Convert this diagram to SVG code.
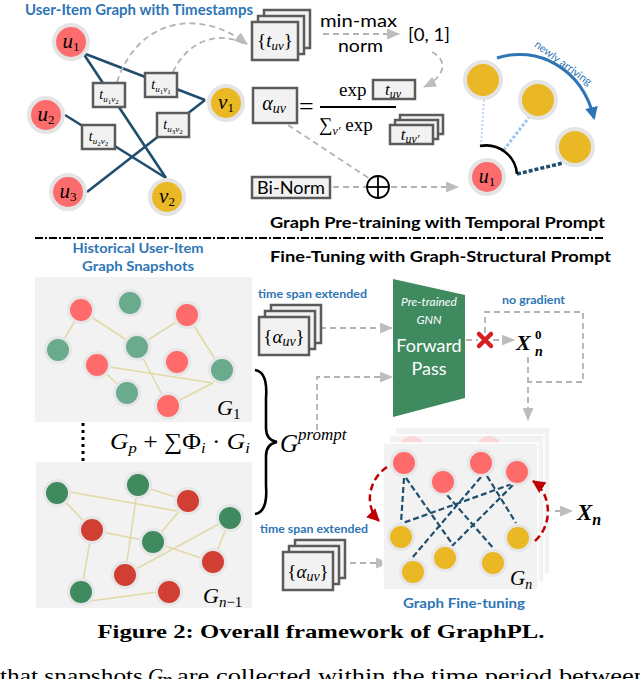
<svg xmlns="http://www.w3.org/2000/svg" width="640" height="679" viewBox="0 0 640 679">
<defs>
<marker id="ag" viewBox="0 0 12 10" refX="11" refY="5" markerWidth="13" markerHeight="11" markerUnits="userSpaceOnUse" orient="auto"><path d="M0,0 L12,5 L0,10 z" fill="#bdbdbd"/></marker>
<marker id="ar" viewBox="0 0 12 12" refX="11" refY="6" markerWidth="13" markerHeight="13" markerUnits="userSpaceOnUse" orient="auto"><path d="M0,0 L12,6 L0,12 z" fill="#c00000"/></marker>
<marker id="ab" viewBox="0 0 12 12" refX="10" refY="6" markerWidth="13" markerHeight="13" markerUnits="userSpaceOnUse" orient="auto"><path d="M0,0 L12,6 L0,12 z" fill="#2e75b6"/></marker>
<style>
.s{font-family:Lato,"Liberation Sans",sans-serif}
.b{font-weight:bold}
.blue{fill:#2e75b6}
.m{font-family:"Liberation Serif",serif;font-style:italic}
.n{font-style:normal}
.box{fill:#f2f2f2;stroke:#5b5b5b;stroke-width:2.5}
.dash{fill:none;stroke:#b3b3b3;stroke-width:1.8;stroke-dasharray:6 4}
.e{stroke:#1f4e6e;stroke-width:2.6;fill:none}
.de{stroke:#1f4e6e;stroke-width:2.2;fill:none;stroke-dasharray:6 3}
.ye{stroke:#e2d9a6;stroke-width:1.6;fill:none}
.ring{stroke:#e4e4e4;stroke-width:4}
.ring2{stroke:#e6e6e6;stroke-width:3}
.ur{fill:#fd6c6c}
.vy{fill:#e9b824}
.g1{fill:#6aab8e}
.r1{fill:#ff6b6b}
.g2{fill:#3f8a5e}
.r2{fill:#d13f33}
.panel{fill:#f2f2f2}
.body{font-family:"Liberation Serif",serif;font-size:21px}
</style>
</defs>
<rect width="640" height="679" fill="#ffffff"/>

<!-- Top title -->
<text x="25" y="15" class="s b blue" font-size="15" textLength="228" lengthAdjust="spacingAndGlyphs">User-Item Graph with Timestamps</text>

<!-- connectors -->
<g id="connectors">
  <line x1="83" y1="53" x2="205" y2="100" class="e"/>
  <line x1="83" y1="53" x2="166" y2="178" class="e"/>
  <line x1="65" y1="115" x2="166" y2="178" class="e"/>
  <line x1="87" y1="192" x2="205" y2="100" class="e"/>
  <path d="M117,82 C138,18 200,8 247,44" class="dash" marker-end="url(#ag)"/>
  <path d="M173,72 C186,44 215,28 247,45" class="dash"/>
  <line x1="323" y1="34" x2="399" y2="34" class="dash" marker-end="url(#ag)"/>
  <path d="M432,52 C448,60 446,76 424,87" class="dash" marker-end="url(#ag)"/>
  <line x1="288" y1="125" x2="370" y2="179" class="dash"/>
  <line x1="333" y1="187" x2="366" y2="187" class="dash"/>
  <line x1="391" y1="187" x2="458" y2="187" class="dash" marker-end="url(#ag)"/>
  <path d="M497,58 C537,45 582,68 594,118" fill="none" stroke="#2e75b6" stroke-width="3" marker-end="url(#ab)"/>
  <line x1="484" y1="100" x2="481" y2="145" stroke="#bdd7ee" stroke-width="2" stroke-dasharray="2 2"/>
  <line x1="530" y1="116" x2="503" y2="151" stroke="#9dc3e6" stroke-width="3" stroke-dasharray="3 2"/>
  <line x1="517" y1="174" x2="563" y2="163" stroke="#1f4e6e" stroke-width="3.5" stroke-dasharray="4 2"/>
  <path d="M480,146 A31,31 0 0 1 517,174" fill="none" stroke="#000" stroke-width="2.6"/>
  <!-- separator -->
  <line x1="35" y1="238" x2="605" y2="238" stroke="#000" stroke-width="2" stroke-dasharray="8 2 2 2"/>
  <!-- bottom connectors -->
  <line x1="320" y1="328" x2="392" y2="328" class="dash" marker-end="url(#ag)"/>
  <path d="M317,430 V377 H392" class="dash" marker-end="url(#ag)"/>
  <line x1="466" y1="340" x2="478" y2="340" class="dash"/>
  <line x1="493" y1="340" x2="514" y2="340" class="dash" marker-end="url(#ag)"/>
  <path d="M485,333 V312 H583 V382 H528" class="dash"/>
  <line x1="528" y1="357" x2="528" y2="420" class="dash" marker-end="url(#ag)"/>
  <line x1="340" y1="563" x2="388" y2="563" class="dash" marker-end="url(#ag)"/>
  <line x1="525" y1="511" x2="572" y2="511" class="dash" marker-end="url(#ag)"/>
  <line x1="83" y1="423" x2="83" y2="468" stroke="#000" stroke-width="3" stroke-dasharray="3 4"/>
</g>

<!-- label boxes on edges -->
<g id="t_u1v2"><rect x="93" y="83" width="32" height="24" class="box"/><text x="109" y="99" text-anchor="middle" class="m" font-size="14">t<tspan font-size="9" dy="3">u</tspan><tspan font-size="7" dy="2" class="n">1</tspan><tspan font-size="9" dy="-2">v</tspan><tspan font-size="7" dy="2" class="n">2</tspan></text></g>
<g id="t_u1v1"><rect x="145" y="73" width="32" height="24" class="box"/><text x="161" y="89" text-anchor="middle" class="m" font-size="14">t<tspan font-size="9" dy="3">u</tspan><tspan font-size="7" dy="2" class="n">1</tspan><tspan font-size="9" dy="-2">v</tspan><tspan font-size="7" dy="2" class="n">1</tspan></text></g>
<g id="t_u2v2"><rect x="82" y="125" width="33" height="24" class="box"/><text x="98.5" y="141" text-anchor="middle" class="m" font-size="14">t<tspan font-size="9" dy="3">u</tspan><tspan font-size="7" dy="2" class="n">2</tspan><tspan font-size="9" dy="-2">v</tspan><tspan font-size="7" dy="2" class="n">2</tspan></text></g>
<g id="t_u3v2"><rect x="157" y="113" width="32" height="24" class="box"/><text x="173" y="129" text-anchor="middle" class="m" font-size="14">t<tspan font-size="9" dy="3">u</tspan><tspan font-size="7" dy="2" class="n">3</tspan><tspan font-size="9" dy="-2">v</tspan><tspan font-size="7" dy="2" class="n">2</tspan></text></g>

<!-- top graph nodes -->
<g id="u1"><circle cx="71" cy="42" r="17" class="ur ring"/><text x="71" y="48" text-anchor="middle" class="m" font-size="21">u<tspan font-size="13" dy="3" class="n">1</tspan></text></g>
<g id="u2"><circle cx="46" cy="115" r="17" class="ur ring"/><text x="46" y="121" text-anchor="middle" class="m" font-size="21">u<tspan font-size="13" dy="3" class="n">2</tspan></text></g>
<g id="u3"><circle cx="68" cy="192" r="17" class="ur ring"/><text x="68" y="198" text-anchor="middle" class="m" font-size="21">u<tspan font-size="13" dy="3" class="n">3</tspan></text></g>
<g id="v1"><circle cx="226" cy="103" r="17" class="vy ring"/><text x="226" y="109" text-anchor="middle" class="m" font-size="21">v<tspan font-size="13" dy="3" class="n">1</tspan></text></g>
<g id="v2"><circle cx="167" cy="197" r="17" class="vy ring"/><text x="167" y="203" text-anchor="middle" class="m" font-size="21">v<tspan font-size="13" dy="3" class="n">2</tspan></text></g>

<!-- {t_uv} stack -->
<g id="tuv_stack">
  <rect x="264" y="10" width="46" height="38" class="box"/>
  <rect x="258" y="16" width="46" height="38" class="box"/>
  <rect x="252" y="22" width="46" height="38" class="box"/>
  <text x="275" y="47" text-anchor="middle" class="m" font-size="19"><tspan class="n">{</tspan>t<tspan font-size="13" dy="3">uv</tspan><tspan class="n" dy="-3">}</tspan></text>
</g>
<g id="minmax">
  <text x="358.5" y="27" text-anchor="middle" class="s" font-size="18" textLength="77" lengthAdjust="spacingAndGlyphs">min-max</text>
  <text x="360.5" y="52" text-anchor="middle" class="s" font-size="18" textLength="45" lengthAdjust="spacingAndGlyphs">norm</text>
</g>
<g id="range"><text x="408" y="41" class="s" font-size="18" textLength="42" lengthAdjust="spacingAndGlyphs">[0, 1]</text></g>

<!-- formula -->
<g id="alpha">
  <rect x="253" y="88" width="44" height="35" class="box"/>
  <text x="274" y="110" text-anchor="middle" class="m" font-size="20">α<tspan font-size="14" dy="3">uv</tspan></text>
</g>
<g id="formula">
  <text x="299" y="115" class="n" font-family="Liberation Serif,serif" font-size="26">=</text>
  <line x1="320" y1="107" x2="396" y2="107" stroke="#000" stroke-width="1.8"/>
  <text x="339" y="96" font-family="Liberation Serif,serif" font-size="19">exp</text>
  <rect x="373" y="80" width="42" height="19" class="box"/>
  <text x="393" y="95" text-anchor="middle" class="m" font-size="17">t<tspan font-size="12" dy="3">uv</tspan></text>
  <text x="319" y="131" font-family="Liberation Serif,serif" font-size="19">∑<tspan class="m" font-size="12" dy="4">v′</tspan><tspan dy="-4"> exp</tspan></text>
  <rect x="400" y="115" width="43" height="19" class="box"/>
  <rect x="395" y="120" width="43" height="19" class="box"/>
  <rect x="390" y="125" width="43" height="19" class="box"/>
  <text x="410" y="140" text-anchor="middle" class="m" font-size="17">t<tspan font-size="12" dy="3">uv′</tspan></text>
</g>
<g id="binorm">
  <rect x="252" y="177" width="78" height="21" class="box"/>
  <text x="291" y="194" text-anchor="middle" class="s" font-size="18" textLength="68" lengthAdjust="spacingAndGlyphs">Bi-Norm</text>
</g>
<g id="oplus">
  <circle cx="378" cy="187" r="11" fill="none" stroke="#000" stroke-width="1.8"/>
  <line x1="367" y1="187" x2="389" y2="187" stroke="#000" stroke-width="1.8"/>
  <line x1="378" y1="176" x2="378" y2="198" stroke="#000" stroke-width="1.8"/>
</g>

<!-- right cluster -->
<g id="arriving">
  <circle cx="483" cy="80" r="18" class="vy ring"/>
  <circle cx="538" cy="100" r="18" class="vy ring"/>
  <circle cx="575" cy="147" r="18" class="vy ring"/>
  <circle cx="487" cy="177" r="17" class="ur ring"/>
  <text x="487" y="183" text-anchor="middle" class="m" font-size="20">u<tspan font-size="13" dy="3" class="n">1</tspan></text>
  <text x="561" y="66" text-anchor="middle" class="s blue" font-size="11" transform="rotate(36 561 66)">newly arriving</text>
</g>

<g id="titles">
  <text x="270" y="228" class="s b" font-size="16" textLength="335" lengthAdjust="spacingAndGlyphs">Graph Pre-training with Temporal Prompt</text>
  <text x="270" y="262" class="s b" font-size="16" textLength="341" lengthAdjust="spacingAndGlyphs">Fine-Tuning with Graph-Structural Prompt</text>
  <text x="138" y="253" text-anchor="middle" class="s b blue" font-size="13.5" textLength="131" lengthAdjust="spacingAndGlyphs">Historical User-Item</text>
  <text x="138" y="271" text-anchor="middle" class="s b blue" font-size="13.5" textLength="112" lengthAdjust="spacingAndGlyphs">Graph Snapshots</text>
</g>

<!-- snapshot G1 -->
<g id="G1">
  <rect x="35" y="277" width="217" height="145" class="panel"/>
  <line x1="81" y1="310" x2="58" y2="350" class="ye"/>
  <line x1="81" y1="310" x2="137" y2="347" class="ye"/>
  <line x1="137" y1="347" x2="187" y2="315" class="ye"/>
  <line x1="187" y1="315" x2="222" y2="370" class="ye"/>
  <line x1="137" y1="347" x2="168" y2="406" class="ye"/>
  <line x1="97" y1="365" x2="213" y2="383" class="ye"/>
  <line x1="168" y1="406" x2="213" y2="383" class="ye"/>
  <line x1="97" y1="365" x2="127" y2="393" class="ye"/>
  <circle cx="81" cy="310" r="12.5" class="r1 ring2"/>
  <circle cx="130" cy="303" r="12.5" class="g1 ring2"/>
  <circle cx="187" cy="315" r="12.5" class="r1 ring2"/>
  <circle cx="58" cy="350" r="12.5" class="g1 ring2"/>
  <circle cx="137" cy="347" r="12.5" class="g1 ring2"/>
  <circle cx="97" cy="365" r="12.5" class="r1 ring2"/>
  <circle cx="177" cy="362" r="12.5" class="r1 ring2"/>
  <circle cx="222" cy="370" r="12.5" class="g1 ring2"/>
  <circle cx="127" cy="393" r="12.5" class="g1 ring2"/>
  <circle cx="168" cy="406" r="12.5" class="r1 ring2"/>
  <text x="217" y="415" class="m" font-size="22">G<tspan class="n" font-size="15" dy="4">1</tspan></text>
</g>

<g id="sumexpr">
  <text x="110" y="449" class="m" font-size="23" textLength="140" lengthAdjust="spacingAndGlyphs">G<tspan font-size="15" dy="4">p</tspan><tspan class="n" dy="-4"> + ∑Φ</tspan><tspan font-size="15" dy="4">i</tspan><tspan class="n" dy="-4"> · </tspan>G<tspan font-size="15" dy="4">i</tspan></text>
</g>

<!-- snapshot Gn-1 -->
<g id="Gn1">
  <rect x="36" y="462" width="216" height="146" class="panel"/>
  <line x1="70" y1="492" x2="177" y2="511" class="ye"/>
  <line x1="57" y1="493" x2="92" y2="530" class="ye"/>
  <line x1="138" y1="485" x2="188" y2="501" class="ye"/>
  <line x1="138" y1="485" x2="125" y2="575" class="ye"/>
  <line x1="188" y1="501" x2="153" y2="542" class="ye"/>
  <line x1="92" y1="530" x2="153" y2="542" class="ye"/>
  <line x1="92" y1="530" x2="81" y2="592" class="ye"/>
  <line x1="153" y1="542" x2="213" y2="562" class="ye"/>
  <line x1="230" y1="518" x2="213" y2="562" class="ye"/>
  <line x1="230" y1="518" x2="125" y2="575" class="ye"/>
  <line x1="90" y1="601" x2="157" y2="592" class="ye"/>
  <circle cx="57" cy="493" r="12.5" class="g2 ring2"/>
  <circle cx="138" cy="485" r="12.5" class="g2 ring2"/>
  <circle cx="188" cy="501" r="12.5" class="r2 ring2"/>
  <circle cx="230" cy="518" r="12.5" class="g2 ring2"/>
  <circle cx="92" cy="530" r="12.5" class="r2 ring2"/>
  <circle cx="153" cy="542" r="12.5" class="g2 ring2"/>
  <circle cx="213" cy="562" r="12.5" class="r2 ring2"/>
  <circle cx="125" cy="575" r="12.5" class="r2 ring2"/>
  <circle cx="81" cy="592" r="12.5" class="g2 ring2"/>
  <circle cx="169" cy="592" r="12.5" class="r2 ring2"/>
  <text x="203" y="603" class="m" font-size="22">G<tspan font-size="15" dy="4">n</tspan><tspan class="n" font-size="15">−1</tspan></text>
</g>

<g id="brace">
  <path d="M255,370 Q268,372 266,398 L266,428 Q266,440 277,442 Q266,444 266,456 L266,486 Q268,512 255,514" fill="none" stroke="#000" stroke-width="2.6"/>
</g>
<g id="Gprompt">
  <text x="280" y="452" class="m" font-size="25">G<tspan font-size="17" dy="-12">prompt</tspan></text>
</g>

<!-- alpha stacks -->
<g id="alpha_top">
  <text x="258" y="298" class="s b blue" font-size="11" textLength="109" lengthAdjust="spacingAndGlyphs">time span extended</text>
  <rect x="271" y="305" width="50" height="38" class="box"/>
  <rect x="265" y="311" width="50" height="38" class="box"/>
  <rect x="259" y="317" width="50" height="38" class="box"/>
  <text x="284" y="343" text-anchor="middle" class="m" font-size="19"><tspan class="n">{</tspan>α<tspan font-size="14" dy="3">uv</tspan><tspan class="n" dy="-3">}</tspan></text>
</g>
<g id="alpha_bottom">
  <text x="260" y="533" class="s b blue" font-size="11" textLength="108" lengthAdjust="spacingAndGlyphs">time span extended</text>
  <rect x="295" y="540" width="50" height="38" class="box"/>
  <rect x="289" y="546" width="50" height="38" class="box"/>
  <rect x="283" y="552" width="50" height="38" class="box"/>
  <text x="308" y="578" text-anchor="middle" class="m" font-size="19"><tspan class="n">{</tspan>α<tspan font-size="14" dy="3">uv</tspan><tspan class="n" dy="-3">}</tspan></text>
</g>

<!-- GNN -->
<g id="gnn">
  <polygon points="393,279 465,295 465,398 393,417" fill="#408a60"/>
  <text x="429" y="306" text-anchor="middle" class="s" font-size="12" font-style="italic" fill="#fff">Pre-trained</text>
  <text x="429" y="324" text-anchor="middle" class="s" font-size="12" font-style="italic" fill="#fff">GNN</text>
  <text x="429" y="352" text-anchor="middle" class="s" font-size="18" fill="#fff">Forward</text>
  <text x="429" y="375" text-anchor="middle" class="s" font-size="18" fill="#fff">Pass</text>
</g>
<g id="nograd">
  <text x="502" y="304" class="s b blue" font-size="11" textLength="63" lengthAdjust="spacingAndGlyphs">no gradient</text>
  <path d="M479,334 L491,346 M491,334 L479,346" stroke="#d42020" stroke-width="4.5" stroke-linecap="round"/>
</g>
<g id="Xn0">
  <text x="516" y="350" class="m b" font-size="22">X</text>
  <text x="535" y="339" class="m b n" font-size="13">0</text>
  <text x="535" y="356" class="m b" font-size="14">n</text>
</g>

<!-- Gn -->
<g id="Gn">
  <rect x="395" y="427" width="155" height="147" class="panel" stroke="#fff" stroke-width="1.5"/>
  <rect x="389" y="435" width="155" height="147" class="panel" stroke="#fff" stroke-width="1.5"/>
  <circle cx="412" cy="448" r="12" fill="#fbd6d6"/>
  <circle cx="489" cy="448" r="12" fill="#fbd6d6"/>
  <rect x="383" y="443" width="155" height="147" class="panel" stroke="#fff" stroke-width="1.5"/>
  <line x1="404" y1="478" x2="401" y2="523" class="de"/>
  <line x1="406" y1="478" x2="453" y2="545" class="de"/>
  <line x1="447" y1="495" x2="494" y2="549" class="de"/>
  <line x1="481" y1="477" x2="412" y2="558" class="de"/>
  <line x1="487" y1="476" x2="516" y2="523" class="de"/>
  <line x1="512" y1="484" x2="403" y2="523" class="de"/>
  <line x1="513" y1="485" x2="452" y2="546" class="de"/>
  <circle cx="404" cy="463" r="12.5" class="r1 ring2"/>
  <circle cx="443" cy="482" r="12.5" class="r1 ring2"/>
  <circle cx="481" cy="463" r="12.5" class="r1 ring2"/>
  <circle cx="517" cy="472" r="12.5" class="r1 ring2"/>
  <circle cx="401" cy="537" r="12.5" class="vy ring2"/>
  <circle cx="413" cy="572" r="12.5" class="vy ring2"/>
  <circle cx="445" cy="558" r="12.5" class="vy ring2"/>
  <circle cx="493" cy="563" r="12.5" class="vy ring2"/>
  <circle cx="518" cy="538" r="12.5" class="vy ring2"/>
  <text x="510" y="585" class="m" font-size="21">G<tspan font-size="14" dy="4">n</tspan></text>
  <path d="M387,467 C368,480 364,506 379,521" fill="none" stroke="#c00000" stroke-width="2.5" stroke-dasharray="7 4" marker-end="url(#ar)"/>
  <path d="M535,541 C553,525 552,494 533,481" fill="none" stroke="#c00000" stroke-width="2.5" stroke-dasharray="7 4" marker-end="url(#ar)"/>
  <text x="464" y="608" text-anchor="middle" class="s b blue" font-size="12.5" textLength="122" lengthAdjust="spacingAndGlyphs">Graph Fine-tuning</text>
</g>
<g id="Xn">
  <text x="577" y="520" class="m b" font-size="23">X<tspan font-size="16" dy="5">n</tspan></text>
</g>

<!-- caption -->
<text x="321" y="638" text-anchor="middle" font-family="Liberation Serif,serif" font-weight="bold" font-size="19" textLength="447" lengthAdjust="spacingAndGlyphs">Figure 2: Overall framework of GraphPL.</text>
<text x="0" y="683" class="body" textLength="143" lengthAdjust="spacingAndGlyphs">that snapshots</text>
<text x="148" y="683" class="body" font-style="italic">G</text>
<text x="162" y="687" class="body" font-style="italic" font-size="14">n</text>
<text x="177" y="683" class="body" textLength="470" lengthAdjust="spacingAndGlyphs">are collected within the time period between</text>
</svg>
